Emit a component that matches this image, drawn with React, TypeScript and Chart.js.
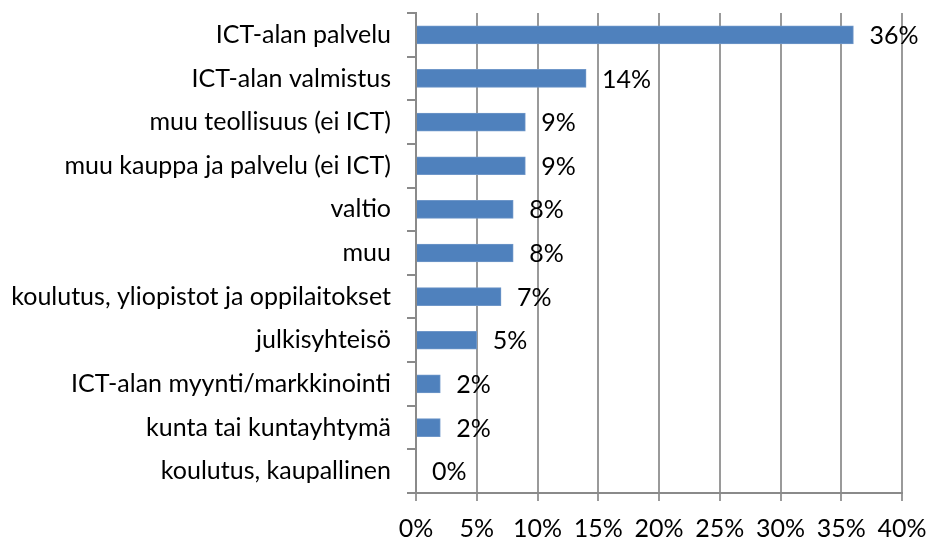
import React, { useEffect, useRef } from "react";
import { Chart, registerables } from "chart.js";

Chart.register(...registerables);

const categories = [
  "ICT-alan palvelu",
  "ICT-alan valmistus",
  "muu teollisuus (ei ICT)",
  "muu kauppa ja palvelu (ei ICT)",
  "valtio",
  "muu",
  "koulutus, yliopistot ja oppilaitokset",
  "julkisyhteisö",
  "ICT-alan myynti/markkinointi",
  "kunta tai kuntayhtymä",
  "koulutus, kaupallinen",
];
const values = [36, 14, 9, 9, 8, 8, 7, 5, 2, 2, 0];
const valueLabels = ["36%", "14%", "9%", "9%", "8%", "8%", "7%", "5%", "2%", "2%", "0%"];
const xTicksMin = 0;
const xTicksMax = 40;
const xTicksStep = 5;

const FONT = "Lato, 'Open Sans', sans-serif";
const FSIZE = 25;

const dataLabelPlugin = {
  id: "dataLabels",
  afterDatasetsDraw(chart: any) {
    const ctx = chart.ctx;
    const meta = chart.getDatasetMeta(0);
    ctx.save();
    ctx.font = `${FSIZE}px ${FONT}`;
    ctx.fillStyle = "#000";
    ctx.textAlign = "left";
    ctx.textBaseline = "middle";
    meta.data.forEach((bar: any, i: number) => {
      ctx.fillText(valueLabels[i], bar.x + 16, bar.y + 1);
    });
    ctx.restore();
  },
};

export default function App() {
  const ref = useRef<HTMLCanvasElement>(null);
  useEffect(() => {
    const chart = new Chart(ref.current as HTMLCanvasElement, {
      type: "bar",
      data: {
        labels: categories,
        datasets: [
          {
            data: values,
            backgroundColor: "#4f81bd",
            borderColor: "#6f97c9",
            borderWidth: 1,
            barThickness: 18,
          },
        ],
      },
      options: {
        indexAxis: "y",
        animation: false,
        responsive: false,
        maintainAspectRatio: false,
        layout: { padding: { top: 13, right: 26, left: 0, bottom: 0 } },
        plugins: { legend: { display: false }, tooltip: { enabled: false } },
        scales: {
          x: {
            min: xTicksMin,
            max: xTicksMax,
            grid: {
              color: "#9a9a9a",
              lineWidth: 2,
              drawTicks: true,
              tickLength: 8,
              tickColor: "#9a9a9a",
            },
            border: { display: true, color: "#8a8a8a", width: 2 },
            ticks: {
              stepSize: xTicksStep,
              callback: (v: any) => v + "%",
              color: "#000",
              font: { family: FONT, size: FSIZE },
              padding: 13,
              maxRotation: 0,
            },
            afterFit: (s: any) => {
              s.height = 46;
              s.paddingLeft = 0;
              s.paddingRight = 0;
            },
          },
          y: {
            grid: {
              offset: true,
              drawOnChartArea: false,
              drawTicks: true,
              tickLength: 9,
              color: "#8a8a8a",
              lineWidth: 2,
            },
            border: { display: true, color: "#8a8a8a", width: 2 },
            ticks: {
              color: "#000",
              font: { family: FONT, size: FSIZE },
              padding: 16,
              autoSkip: false,
            },
            afterFit: (s: any) => {
              s.width = 416;
              s.paddingTop = 0;
              s.paddingBottom = 0;
            },
          },
        },
      },
      plugins: [dataLabelPlugin],
    });
    return () => chart.destroy();
  }, []);
  return (
    <div style={{ position: "fixed", left: 0, top: 0, width: 928, height: 539, background: "#fff" }}>
      <canvas ref={ref} width={928} height={539} style={{ display: "block" }} />
    </div>
  );
}
